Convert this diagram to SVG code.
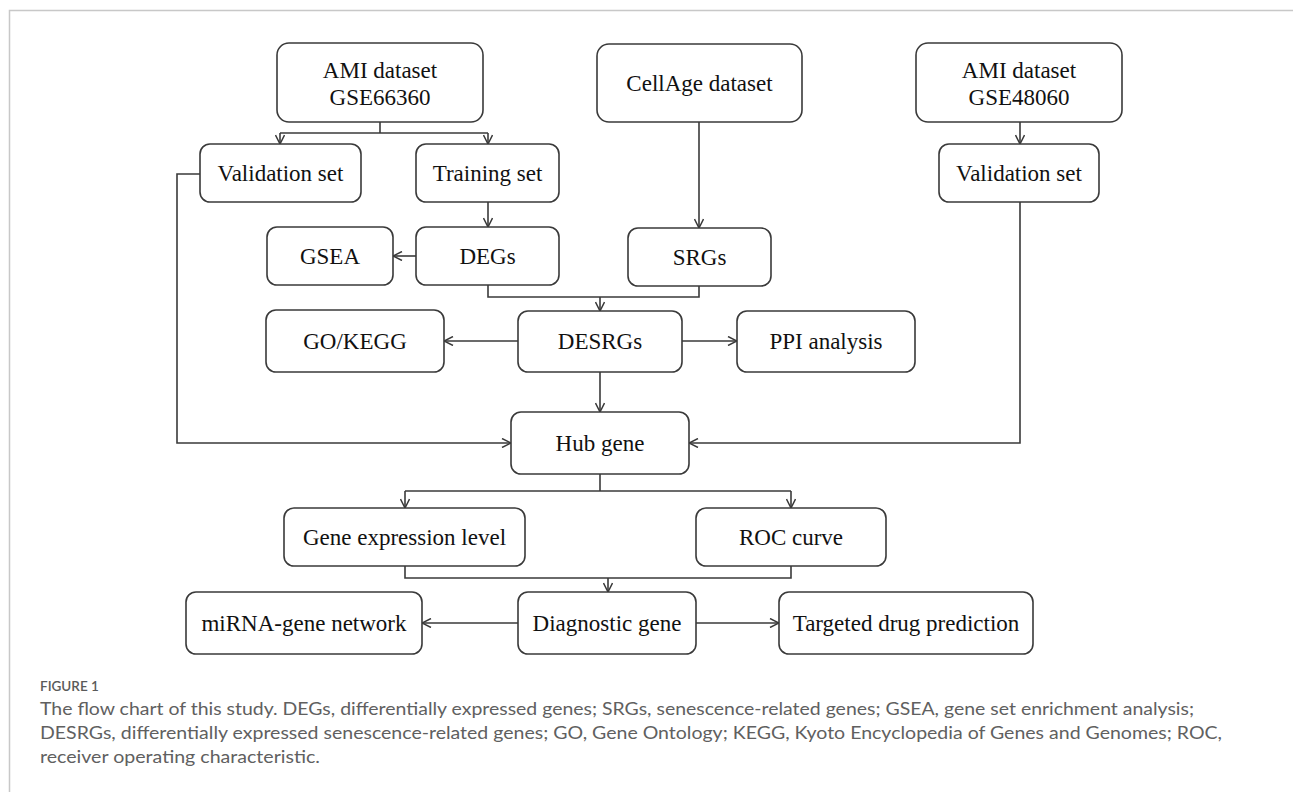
<svg xmlns="http://www.w3.org/2000/svg" width="1293" height="792" viewBox="0 0 1293 792">
<style>
.n{fill:#fff;stroke:#3a3a3a;stroke-width:1.6}
.t{font-family:"Liberation Serif","Times New Roman",serif;font-size:23px;fill:#111;text-anchor:middle}
.c{fill:none;stroke:#3a3a3a;stroke-width:1.6}
.cap{font-family:Lato,"Open Sans",sans-serif;font-size:17px;fill:#606060}
</style>
<defs>
<marker id="a" viewBox="0 0 10 10" refX="10" refY="5" markerWidth="10" markerHeight="10" markerUnits="userSpaceOnUse" orient="auto">
<path d="M1,0.5 L10,5 L1,9.5" fill="none" stroke="#3a3a3a" stroke-width="1.5"/>
</marker>
</defs>
<rect width="1293" height="792" fill="#fff"/>
<path d="M9.5,792 V10.5 H1293" fill="none" stroke="#c8c8c8" stroke-width="1.5"/>
<g id="connectors">
<path class="c" d="M380,122 V133"/>
<path class="c" d="M280,133 H488"/>
<path class="c" d="M280,133 V144" marker-end="url(#a)"/>
<path class="c" d="M488,133 V144" marker-end="url(#a)"/>
<path class="c" d="M488,202 V227" marker-end="url(#a)"/>
<path class="c" d="M416,256 H393" marker-end="url(#a)"/>
<path class="c" d="M699,122 V228" marker-end="url(#a)"/>
<path class="c" d="M1020,122 V144" marker-end="url(#a)"/>
<path class="c" d="M488,285 V297 H699 V286"/>
<path class="c" d="M600,297 V311" marker-end="url(#a)"/>
<path class="c" d="M518,341 H444" marker-end="url(#a)"/>
<path class="c" d="M682,341 H737" marker-end="url(#a)"/>
<path class="c" d="M600,372 V412" marker-end="url(#a)"/>
<path class="c" d="M200,174 H177 V443 H511" marker-end="url(#a)"/>
<path class="c" d="M1020,202 V443 H689" marker-end="url(#a)"/>
<path class="c" d="M600,474 V491"/>
<path class="c" d="M405,491 H791"/>
<path class="c" d="M405,491 V508" marker-end="url(#a)"/>
<path class="c" d="M791,491 V508" marker-end="url(#a)"/>
<path class="c" d="M405,566 V578 H791 V566"/>
<path class="c" d="M608,578 V592" marker-end="url(#a)"/>
<path class="c" d="M518,623 H422" marker-end="url(#a)"/>
<path class="c" d="M696,623 H779" marker-end="url(#a)"/>
</g>
<g id="ami66360"><rect class="n" x="277" y="43" width="206" height="79" rx="12"/><text class="t" x="380" y="78">AMI dataset</text><text class="t" x="380" y="105">GSE66360</text></g>
<g id="cellage"><rect class="n" x="597" y="44" width="205" height="78" rx="12"/><text class="t" x="699.5" y="91">CellAge dataset</text></g>
<g id="ami48060"><rect class="n" x="916" y="43" width="206" height="79" rx="12"/><text class="t" x="1019" y="78">AMI dataset</text><text class="t" x="1019" y="105">GSE48060</text></g>
<g id="valL"><rect class="n" x="200" y="144" width="161" height="58" rx="10"/><text class="t" x="280.5" y="181">Validation set</text></g>
<g id="train"><rect class="n" x="416" y="144" width="143" height="58" rx="10"/><text class="t" x="487.5" y="181">Training set</text></g>
<g id="valR"><rect class="n" x="939" y="144" width="160" height="58" rx="10"/><text class="t" x="1019" y="181">Validation set</text></g>
<g id="gsea"><rect class="n" x="267" y="227" width="126" height="58" rx="10"/><text class="t" x="330" y="264">GSEA</text></g>
<g id="degs"><rect class="n" x="416" y="227" width="143" height="58" rx="10"/><text class="t" x="487.5" y="264">DEGs</text></g>
<g id="srgs"><rect class="n" x="628" y="228" width="143" height="58" rx="10"/><text class="t" x="699.5" y="265">SRGs</text></g>
<g id="gokegg"><rect class="n" x="266" y="310" width="178" height="62" rx="10"/><text class="t" x="355" y="349">GO/KEGG</text></g>
<g id="desrgs"><rect class="n" x="518" y="311" width="164" height="61" rx="10"/><text class="t" x="600" y="349">DESRGs</text></g>
<g id="ppi"><rect class="n" x="737" y="311" width="178" height="61" rx="10"/><text class="t" x="826" y="349">PPI analysis</text></g>
<g id="hub"><rect class="n" x="511" y="412" width="178" height="62" rx="10"/><text class="t" x="600" y="451">Hub gene</text></g>
<g id="gel"><rect class="n" x="284" y="508" width="241" height="58" rx="10"/><text class="t" x="404.5" y="545">Gene expression level</text></g>
<g id="roc"><rect class="n" x="696" y="508" width="190" height="58" rx="10"/><text class="t" x="791" y="545">ROC curve</text></g>
<g id="mirna"><rect class="n" x="186" y="592" width="236" height="62" rx="10"/><text class="t" x="304" y="631">miRNA-gene network</text></g>
<g id="diag"><rect class="n" x="518" y="592" width="178" height="62" rx="10"/><text class="t" x="607" y="631">Diagnostic gene</text></g>
<g id="drug"><rect class="n" x="779" y="592" width="254" height="62" rx="10"/><text class="t" x="906" y="631">Targeted drug prediction</text></g>
<g id="caption">
<text x="40" y="691" font-family="Lato,'Open Sans',sans-serif" font-size="13.5" font-weight="600" fill="#5a5a5a">FIGURE 1</text>
<text class="cap" x="40" y="715" textLength="1154" lengthAdjust="spacingAndGlyphs">The flow chart of this study. DEGs, differentially expressed genes; SRGs, senescence-related genes; GSEA, gene set enrichment analysis;</text>
<text class="cap" x="40" y="739" textLength="1182" lengthAdjust="spacingAndGlyphs">DESRGs, differentially expressed senescence-related genes; GO, Gene Ontology; KEGG, Kyoto Encyclopedia of Genes and Genomes; ROC,</text>
<text class="cap" x="40" y="763" textLength="280" lengthAdjust="spacingAndGlyphs">receiver operating characteristic.</text>
</g>
</svg>
